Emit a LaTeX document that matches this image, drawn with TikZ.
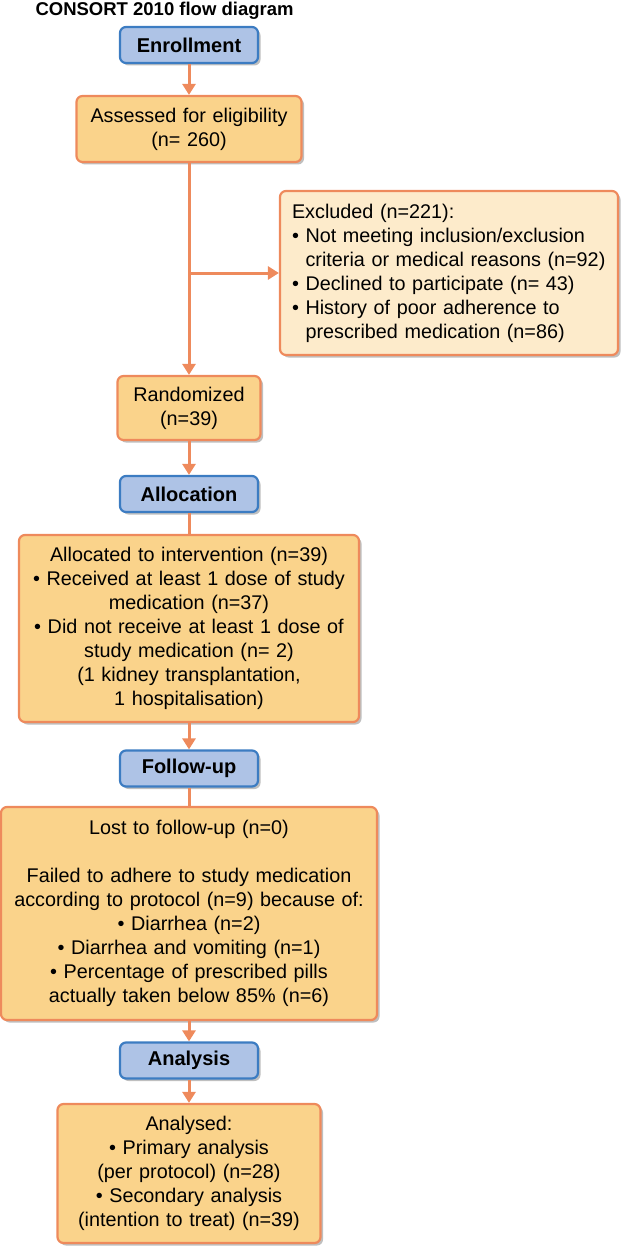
\documentclass[tikz,border=0pt]{standalone}
\usepackage{fontspec}
\setmainfont{Liberation Sans}
\usepackage{tikz}
\usetikzlibrary{arrows.meta}
\usetikzlibrary{shadows}

\definecolor{boxfill}{HTML}{FAD38B}
\definecolor{boxline}{HTML}{EE8A5C}
\definecolor{exclfill}{HTML}{FDEBCB}
\definecolor{stagefill}{HTML}{AEC3E6}
\definecolor{stageline}{HTML}{3C7CC2}

\begin{document}
\begin{tikzpicture}[x=1pt, y=-1pt, font=\fontsize{19.8}{24}\selectfont,
        stage_style/.style={draw=stageline, fill=stagefill, line width=2.2pt, rounded corners=6pt,
            minimum width=138pt, minimum height=36pt, inner sep=0pt,
            font=\fontsize{20}{24}\selectfont\bfseries,
            drop shadow={shadow xshift=2.5pt, shadow yshift=-2.5pt, opacity=0.25, fill=black}},
        box_style/.style={draw=boxline, fill=boxfill, line width=2.2pt, rounded corners=6pt,
            inner sep=0pt, align=center,
            drop shadow={shadow xshift=2.5pt, shadow yshift=-2.5pt, opacity=0.25, fill=black}},
        excl_style/.style={box_style, fill=exclfill, align=left},
        arrow_style/.style={draw=boxline, line width=3pt, -{Triangle[width=13pt,length=11pt]}},
        line_style/.style={draw=boxline, line width=3pt, -}]

        \useasboundingbox (0,0) rectangle (628,1252);

        \node [anchor=base west, font=\fontsize{18.5}{20}\selectfont\bfseries] (t1) at (32,16) {CONSORT 2010 flow diagram};

        \node [stage_style] (n1) at (189,45) {Enrollment};
        \node [box_style, minimum width=225pt, minimum height=66pt, text width=209pt] (n2) at (189,129)
            {Assessed for eligibility\\(n= 260)};
        \node [excl_style, minimum width=338pt, minimum height=164pt, text width=314pt] (n3) at (449,273)
            {Excluded (n=221):\\
             \textbullet\ Not meeting inclusion/exclusion\\
             \phantom{\textbullet\ }criteria or medical reasons (n=92)\\
             \textbullet\ Declined to participate (n= 43)\\
             \textbullet\ History of poor adherence to\\
             \phantom{\textbullet\ }prescribed medication (n=86)};
        \node [box_style, minimum width=143pt, minimum height=64pt, text width=127pt] (n4) at (189,408)
            {Randomized\\(n=39)};
        \node [stage_style] (n5) at (189,494) {Allocation};
        \node [box_style, minimum width=340pt, minimum height=187pt, text width=324pt] (n6) at (189,628.5)
            {Allocated to intervention (n=39)\\
             \textbullet\ Received at least 1 dose of study\\
             medication (n=37)\\
             \textbullet\ Did not receive at least 1 dose of\\
             study medication (n= 2)\\
             (1 kidney transplantation,\\
             1 hospitalisation)};
        \node [stage_style] (n7) at (189,768.5) {Follow-up};
        \node [box_style, minimum width=376pt, minimum height=213pt, text width=362pt] (n8) at (189,913.5)
            {Lost to follow-up (n=0)\\[24pt]
             Failed to adhere to study medication\\
             according to protocol (n=9) because of:\\
             \textbullet\ Diarrhea (n=2)\\
             \textbullet\ Diarrhea and vomiting (n=1)\\
             \textbullet\ Percentage of prescribed pills\\
             actually taken below 85\% (n=6)};
        \node [stage_style] (n9) at (189,1060.5) {Analysis};
        \node [box_style, minimum width=263pt, minimum height=139pt, text width=247pt] (n10) at (189,1173.5)
            {Analysed:\\
             \textbullet\ Primary analysis\\
             (per protocol) (n=28)\\
             \textbullet\ Secondary analysis\\
             (intention to treat) (n=39)};

        \coordinate (c1) at (189,273);

        \draw [arrow_style] (n1) -- (n2);
        \draw [arrow_style] (n2) -- (n4);
        \draw [arrow_style] (c1) -- (n3);
        \draw [arrow_style] (n4) -- (n5);
        \draw [line_style] (n5) -- (n6);
        \draw [arrow_style] (n6) -- (n7);
        \draw [line_style] (n7) -- (n8);
        \draw [arrow_style] (n8) -- (n9);
        \draw [arrow_style] (n9) -- (n10);
        \end{tikzpicture}
\end{document}
